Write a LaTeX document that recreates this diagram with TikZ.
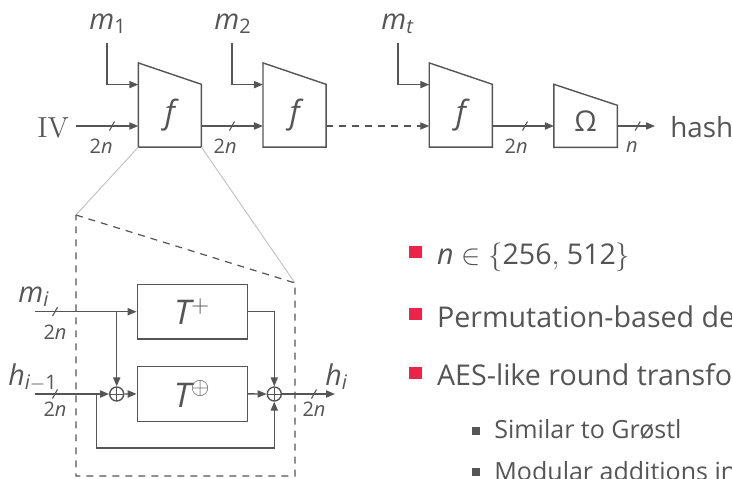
\documentclass[tikz,border=0pt]{standalone}
\usepackage{fontspec}
\setsansfont{Open Sans}
\usetikzlibrary{arrows.meta,calc}
\definecolor{fg}{HTML}{555555}
\definecolor{bul}{RGB}{236,36,72}
\definecolor{lg}{HTML}{C4C4C4}
\newcommand\vr[1]{{\itshape #1}}
\newcommand\trap[2]{\draw[conn] (#1.south west) -- (#1.north west) -- ($(#1.north east)+(0,#2)$) -- (#1.south east) -- cycle;}
\begin{document}
\begin{tikzpicture}[x=0.5pt,y=-0.5pt,
  font=\sffamily\fontsize{14.3}{17}\selectfont, color=fg,
  conn/.style={draw=fg, line width=0.7pt},
  arr/.style={conn, -{Triangle[length=4.5pt,width=3.6pt]}},
  dsh/.style={dash pattern=on 3.5pt off 3pt},
  fshape/.style={inner sep=0, minimum width=31.15pt, minimum height=41.7pt},
  oshape/.style={inner sep=0, minimum width=31.35pt, minimum height=31.15pt},
  blk/.style={conn, inner sep=0, minimum width=55pt, minimum height=27.35pt},
  xorn/.style={circle, conn, minimum size=7pt, inner sep=0,
    path picture={\draw[fg, line width=0.5pt] (path picture bounding box.north) -- (path picture bounding box.south) (path picture bounding box.west) -- (path picture bounding box.east);}},
  lbl/.style={inner sep=0, anchor=base west},
  small/.style={inner sep=0, font=\sffamily\fontsize{10}{11}\selectfont, text height=7.1pt, text depth=0pt},
  bus/.pic={\draw[fg, line width=0.55pt] (-2.5,4.5) -- (2.5,-4.5);},
  bsq/.style={fill=bul, inner sep=0, minimum size=6.3pt},
  ssq/.style={fill=fg, inner sep=0, minimum size=4.15pt}
]
\useasboundingbox (0,0) rectangle (732,478);
\clip (0,0) rectangle (732,478);
\coordinate (yin) at (0,126);
% top chain
\node[fshape] (f1) at (169.85,105) {};
\node[fshape] (f2) at (294.5,105) {};
\node[fshape] (f3) at (460.8,105) {};
\node[oshape] (om) at (585.65,115.85) {};
\trap{f1}{21.4}
\trap{f2}{21.4}
\trap{f3}{21.4}
\trap{om}{21}
\node[font=\sffamily\fontsize{16}{18}\selectfont] (f1t) at (169.85,115) {\vr{f}};
\node[font=\sffamily\fontsize{16}{18}\selectfont] (f2t) at (294.5,115) {\vr{f}};
\node[font=\sffamily\fontsize{16}{18}\selectfont] (f3t) at (460.8,115) {\vr{f}};
\node (omt) at (585.65,121) {Ω};
\node[lbl] (iv) at (37,137) {\rmfamily\fontsize{14.5}{17}\selectfont IV};
\node[lbl] (m1) at (89,29) {\vr{m}\textsubscript{1}};
\node[lbl] (m2) at (214,29) {\vr{m}\textsubscript{2}};
\node[lbl] (mt) at (381,29) {\vr{m}\textsubscript{\vr{t}}};
\node[lbl, font=\sffamily\fontsize{13.9}{17}\selectfont] (hash) at (670,137) {hash};
\coordinate (ivs) at (76,126);
\coordinate (c1) at (107,43);
\coordinate (c2) at (232,43);
\coordinate (c3) at (398,43);
\coordinate (hend) at (655,126);
\draw[arr] (c1) |- ($(f1.north west)+(0,21.7)$);
\draw[arr] (c2) |- ($(f2.north west)+(0,21.7)$);
\draw[arr] (c3) |- ($(f3.north west)+(0,21.7)$);
\draw[arr] (ivs) -- (f1.west |- yin);
\draw[arr] (f1.east |- yin) -- (f2.west |- yin);
\draw[arr, dsh] (f2.east |- yin) -- (f3.west |- yin);
\draw[arr] (f3.east |- yin) -- (om.west |- yin);
\draw[arr] (om.east |- yin) -- (hend);
\pic at (112,126) {bus};
\pic at (232,126) {bus};
\pic at (525,126) {bus};
\pic at (637.7,126) {bus};
\node[small, anchor=north east] (b1) at (113,139) {2\vr{n}};
\node[small, anchor=north east] (b2) at (237,139) {2\vr{n}};
\node[small, anchor=north east] (b3) at (528,139) {2\vr{n}};
\node[small, anchor=north east, text height=5.4pt] (b4) at (638,141) {\vr{n}};
% zoom lines and dashed box
\coordinate (dtl) at (76,215);
\coordinate (dtr) at (295,283);
\coordinate (dbr) at (295,476);
\coordinate (dbl) at (76,476);
\draw[lg, line width=0.5pt] (f1.south west) -- (dtl) (f1.south east) -- (dtr);
\draw[conn, line width=0.6pt, dsh] (dtl) -- (dtr) -- (dbr) -- (dbl) -- cycle;
% inner diagram
\node[blk, font=\sffamily\fontsize{17}{19}\selectfont] (tp) at (192.3,311.7) {\vr{T}$^{+}$};
\node[blk, font=\sffamily\fontsize{17}{19}\selectfont] (tx) at (192.3,393.9) {\vr{T}$^{\oplus}$};
\node[xorn] (x1) at (116.7,394) {};
\node[xorn] (x2) at (274.3,394) {};
\coordinate (mis) at (35,311.7);
\coordinate (his) at (35,394);
\coordinate (br) at (116.7,311.7);
\coordinate (fb) at (96.7,394);
\coordinate (hout) at (335,394);
\node[lbl] (mil) at (18,302) {\vr{m}\textsubscript{\vr{i}}};
\node[lbl] (hil) at (8,385) {\vr{h}\textsubscript{\vr{i}$-$1}};
\node[lbl] (hol) at (325,385) {\vr{h}\textsubscript{\vr{i}}};
\draw[arr] (mis) -- (tp.west);
\draw[arr] (br) -- (x1.north);
\draw[arr] (his) -- (x1.west);
\draw[arr] (x1.east) -- (tx.west);
\draw[arr] (tx.east) -- (x2.west);
\draw[arr] (tp.east) -| (x2.north);
\draw[arr] (fb) |- (96.7,448) -| (x2.south);
\draw[arr] (x2.east) -- (hout);
\pic at (55,311.7) {bus};
\pic at (55,394) {bus};
\pic at (314,394) {bus};
\node[small, anchor=north] (b5) at (55,325) {2\vr{n}};
\node[small, anchor=north] (b6) at (55,402) {2\vr{n}};
\node[small, anchor=north] (b7) at (314,402) {2\vr{n}};
% bullets
\node[bsq] (q1) at (415.4,252) {};
\node[bsq] (q2) at (415.4,314) {};
\node[bsq] (q3) at (415.4,373) {};
\node[ssq] (s1) at (475.8,431) {};
\node[ssq] (s2) at (475.8,472) {};
\node[lbl] (t1) at (436.7,264) {\vr{n} $\in\{$256$,$ 512$\}$};
\node[lbl] (t2) at (436.7,327.3) {Permutation-based design};
\node[lbl] (t3) at (436.7,385.7) {AES-like round transformations};
\node[lbl, font=\sffamily\fontsize{12.5}{15}\selectfont] (t4) at (494,438.3) {Similar to Grøstl};
\node[lbl, font=\sffamily\fontsize{12.5}{15}\selectfont] (t5) at (494,480) {Modular additions instead of XOR};
\end{tikzpicture}
\end{document}
